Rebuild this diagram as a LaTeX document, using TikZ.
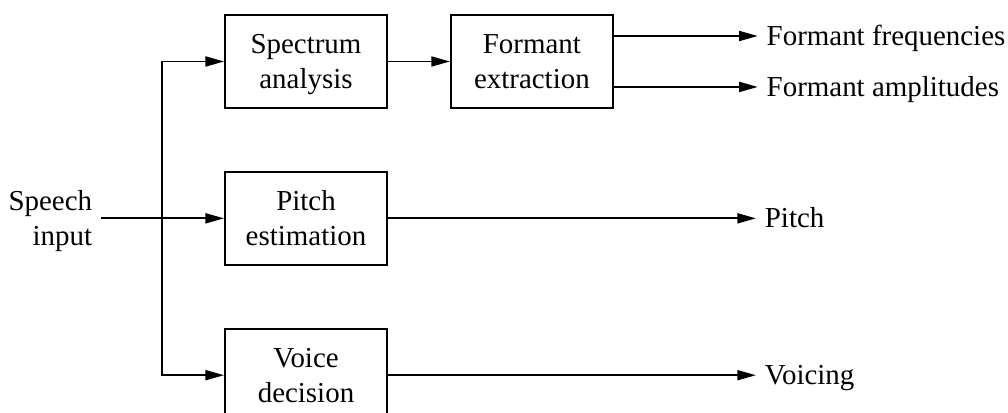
\documentclass[tikz,border=0pt]{standalone}
\usepackage{fontspec}
\setmainfont{Liberation Serif}
\usetikzlibrary{positioning,arrows.meta}
\tikzset{node distance=46.5pt,
  block/.style={draw, line width=1.4pt, minimum width=121.5pt, minimum height=69.75pt,
    align=center, text depth=0pt, inner sep=0pt},
  lbl/.style={inner xsep=6.5pt, inner ysep=0pt, text depth=0pt},
  flow/.style={line width=1.4pt, -{Triangle[length=14pt,width=7.5pt]}}}

\begin{document}
\begin{tikzpicture}[font=\fontsize{21.7}{26.25}\selectfont]
                \useasboundingbox (0,0) rectangle (756pt,-309pt);
                \node[block] (sa) at (229.5pt,-46.1pt) {Spectrum\\analysis};
                \node[block] (fx) [right=of sa] {Formant\\extraction};
                \node[block] (pe) [below=of sa] {Pitch\\estimation};
                \node[block] (vd) [below=of pe] {Voice\\decision};
                \node[lbl, align=right] (src) [left=92.25pt of pe] {Speech\\input};
                \node[lbl, text height=14pt] (ff) [right=108pt of fx, yshift=19.1pt] {Formant frequencies};
                \node[lbl, text height=14pt] (fa) [right=108pt of fx, yshift=-19.1pt] {Formant amplitudes};
                \node[lbl, text height=14pt] (pt) [right=276pt of pe] {Pitch};
                \node[lbl, text height=14pt] (vc) [right=276pt of vd] {Voicing};
                \coordinate[left=of pe.west] (br);
                \draw[flow] (src) -- (pe);
                \draw[flow] (br) |- (sa);
                \draw[flow] (br) |- (vd);
                \draw[flow] (sa) -- (fx);
                \draw[flow] ([yshift=19.1pt]fx.east) -- (ff);
                \draw[flow] ([yshift=-19.1pt]fx.east) -- (fa);
                \draw[flow] (pe) -- (pt);
                \draw[flow] (vd) -- (vc);
              \end{tikzpicture}
\end{document}
